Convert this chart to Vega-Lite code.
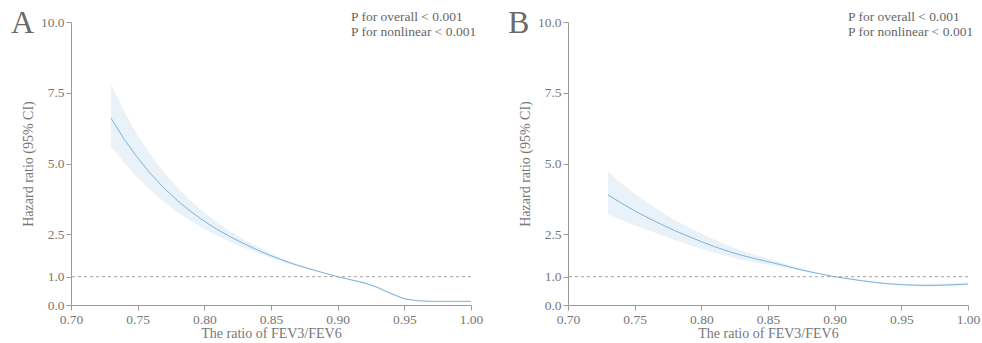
{
  "$schema": "https://vega.github.io/schema/vega-lite/v6.json",
  "padding": {"left": 11, "top": 7, "right": 5, "bottom": 0},
  "background": "white",
  "bounds": "flush",
  "spacing": 97,
  "datasets": {
    "A": [
      {"x": 0.73, "hr": 6.6, "lo": 5.6, "hi": 7.8},
      {"x": 0.74, "hr": 5.85, "lo": 5.02, "hi": 6.82},
      {"x": 0.75, "hr": 5.2, "lo": 4.5, "hi": 6.0},
      {"x": 0.76, "hr": 4.62, "lo": 4.04, "hi": 5.29},
      {"x": 0.77, "hr": 4.12, "lo": 3.64, "hi": 4.67},
      {"x": 0.78, "hr": 3.68, "lo": 3.28, "hi": 4.13},
      {"x": 0.79, "hr": 3.3, "lo": 2.97, "hi": 3.67},
      {"x": 0.8, "hr": 2.96, "lo": 2.69, "hi": 3.26},
      {"x": 0.81, "hr": 2.66, "lo": 2.44, "hi": 2.9},
      {"x": 0.82, "hr": 2.4, "lo": 2.22, "hi": 2.59},
      {"x": 0.83, "hr": 2.16, "lo": 2.02, "hi": 2.31},
      {"x": 0.84, "hr": 1.94, "lo": 1.83, "hi": 2.06},
      {"x": 0.85, "hr": 1.74, "lo": 1.66, "hi": 1.83},
      {"x": 0.86, "hr": 1.56, "lo": 1.5, "hi": 1.62},
      {"x": 0.87, "hr": 1.4, "lo": 1.36, "hi": 1.44},
      {"x": 0.88, "hr": 1.26, "lo": 1.24, "hi": 1.29},
      {"x": 0.89, "hr": 1.13, "lo": 1.12, "hi": 1.14},
      {"x": 0.9, "hr": 1.0, "lo": 1.0, "hi": 1.0},
      {"x": 0.91, "hr": 0.89, "lo": 0.87, "hi": 0.91},
      {"x": 0.92, "hr": 0.78, "lo": 0.75, "hi": 0.81},
      {"x": 0.93, "hr": 0.62, "lo": 0.59, "hi": 0.65},
      {"x": 0.94, "hr": 0.4, "lo": 0.37, "hi": 0.43},
      {"x": 0.95, "hr": 0.22, "lo": 0.19, "hi": 0.25},
      {"x": 0.96, "hr": 0.15, "lo": 0.13, "hi": 0.17},
      {"x": 0.97, "hr": 0.13, "lo": 0.12, "hi": 0.14},
      {"x": 0.98, "hr": 0.13, "lo": 0.12, "hi": 0.14},
      {"x": 0.99, "hr": 0.13, "lo": 0.12, "hi": 0.14},
      {"x": 1.0, "hr": 0.13, "lo": 0.12, "hi": 0.14}
    ],
    "B": [
      {"x": 0.73, "hr": 3.89, "lo": 3.2, "hi": 4.72},
      {"x": 0.74, "hr": 3.6, "lo": 3.0, "hi": 4.3},
      {"x": 0.75, "hr": 3.33, "lo": 2.82, "hi": 3.93},
      {"x": 0.76, "hr": 3.08, "lo": 2.64, "hi": 3.6},
      {"x": 0.77, "hr": 2.85, "lo": 2.47, "hi": 3.29},
      {"x": 0.78, "hr": 2.63, "lo": 2.3, "hi": 3.0},
      {"x": 0.79, "hr": 2.43, "lo": 2.14, "hi": 2.76},
      {"x": 0.8, "hr": 2.24, "lo": 1.98, "hi": 2.53},
      {"x": 0.81, "hr": 2.06, "lo": 1.84, "hi": 2.31},
      {"x": 0.82, "hr": 1.9, "lo": 1.72, "hi": 2.1},
      {"x": 0.83, "hr": 1.76, "lo": 1.6, "hi": 1.93},
      {"x": 0.84, "hr": 1.64, "lo": 1.5, "hi": 1.78},
      {"x": 0.85, "hr": 1.53, "lo": 1.42, "hi": 1.64},
      {"x": 0.86, "hr": 1.42, "lo": 1.34, "hi": 1.5},
      {"x": 0.87, "hr": 1.3, "lo": 1.25, "hi": 1.36},
      {"x": 0.88, "hr": 1.19, "lo": 1.16, "hi": 1.23},
      {"x": 0.89, "hr": 1.09, "lo": 1.08, "hi": 1.1},
      {"x": 0.9, "hr": 1.0, "lo": 1.0, "hi": 1.0},
      {"x": 0.91, "hr": 0.93, "lo": 0.91, "hi": 0.95},
      {"x": 0.92, "hr": 0.86, "lo": 0.84, "hi": 0.89},
      {"x": 0.93, "hr": 0.8, "lo": 0.77, "hi": 0.83},
      {"x": 0.94, "hr": 0.75, "lo": 0.72, "hi": 0.78},
      {"x": 0.95, "hr": 0.72, "lo": 0.69, "hi": 0.75},
      {"x": 0.96, "hr": 0.7, "lo": 0.66, "hi": 0.74},
      {"x": 0.97, "hr": 0.69, "lo": 0.65, "hi": 0.74},
      {"x": 0.98, "hr": 0.7, "lo": 0.66, "hi": 0.75},
      {"x": 0.99, "hr": 0.72, "lo": 0.68, "hi": 0.77},
      {"x": 1.0, "hr": 0.74, "lo": 0.69, "hi": 0.8}
    ],
    "labelA": [{"panel": "A", "p1": "P for overall < 0.001", "p2": "P for nonlinear < 0.001"}],
    "labelB": [{"panel": "B", "p1": "P for overall < 0.001", "p2": "P for nonlinear < 0.001"}]
  },
  "hconcat": [
    {
      "width": 400,
      "height": 283,
      "layer": [
        {"data": {"name": "A"}, "mark": {"type": "area", "color": "#d6e8f3", "opacity": 0.55},
         "encoding": {
           "x": {"field": "x", "type": "quantitative", "scale": {"domain": [0.7, 1.0], "nice": false, "zero": false},
                 "axis": {"title": "The ratio of FEV3/FEV6", "values": [0.7, 0.75, 0.8, 0.85, 0.9, 0.95, 1.0], "format": ".2f"}},
           "y": {"field": "lo", "type": "quantitative", "scale": {"domain": [0, 10], "nice": false},
                 "axis": {"title": "Hazard ratio (95% CI)", "values": [0, 1, 2.5, 5, 7.5, 10], "format": ".1f"}},
           "y2": {"field": "hi"}}},
        {"data": {"name": "A"}, "mark": {"type": "line", "color": "#7fb2d8", "strokeWidth": 1},
         "encoding": {"x": {"field": "x", "type": "quantitative"}, "y": {"field": "hr", "type": "quantitative"}}},
        {"data": {"name": "labelA"}, "mark": {"type": "rule", "color": "#999", "strokeDash": [3, 3], "strokeWidth": 0.9},
         "encoding": {"y": {"datum": 1, "type": "quantitative"}}},
        {"data": {"name": "labelA"}, "mark": {"type": "text", "align": "left", "baseline": "alphabetic", "dx": -120, "dy": -1, "fontSize": 13.5, "font": "Liberation Serif", "color": "#666"},
         "encoding": {"x": {"datum": 1.0, "type": "quantitative"}, "y": {"datum": 10, "type": "quantitative"}, "text": {"field": "p1", "type": "nominal"}}},
        {"data": {"name": "labelA"}, "mark": {"type": "text", "align": "left", "baseline": "alphabetic", "dx": -120, "dy": 14, "fontSize": 13.5, "font": "Liberation Serif", "color": "#666"},
         "encoding": {"x": {"datum": 1.0, "type": "quantitative"}, "y": {"datum": 10, "type": "quantitative"}, "text": {"field": "p2", "type": "nominal"}}},
        {"data": {"name": "labelA"}, "mark": {"type": "text", "align": "left", "baseline": "alphabetic", "dx": -60, "dy": 11, "fontSize": 32, "font": "Liberation Serif", "color": "#6b6b6b"},
         "encoding": {"x": {"datum": 0.7, "type": "quantitative"}, "y": {"datum": 10, "type": "quantitative"}, "text": {"field": "panel", "type": "nominal"}}}
      ]
    },
    {
      "width": 400,
      "height": 283,
      "layer": [
        {"data": {"name": "B"}, "mark": {"type": "area", "color": "#d6e8f3", "opacity": 0.55},
         "encoding": {
           "x": {"field": "x", "type": "quantitative", "scale": {"domain": [0.7, 1.0], "nice": false, "zero": false},
                 "axis": {"title": "The ratio of FEV3/FEV6", "values": [0.7, 0.75, 0.8, 0.85, 0.9, 0.95, 1.0], "format": ".2f"}},
           "y": {"field": "lo", "type": "quantitative", "scale": {"domain": [0, 10], "nice": false},
                 "axis": {"title": "Hazard ratio (95% CI)", "values": [0, 1, 2.5, 5, 7.5, 10], "format": ".1f"}},
           "y2": {"field": "hi"}}},
        {"data": {"name": "B"}, "mark": {"type": "line", "color": "#7fb2d8", "strokeWidth": 1},
         "encoding": {"x": {"field": "x", "type": "quantitative"}, "y": {"field": "hr", "type": "quantitative"}}},
        {"data": {"name": "labelB"}, "mark": {"type": "rule", "color": "#999", "strokeDash": [3, 3], "strokeWidth": 0.9},
         "encoding": {"y": {"datum": 1, "type": "quantitative"}}},
        {"data": {"name": "labelB"}, "mark": {"type": "text", "align": "left", "baseline": "alphabetic", "dx": -120, "dy": -1, "fontSize": 13.5, "font": "Liberation Serif", "color": "#666"},
         "encoding": {"x": {"datum": 1.0, "type": "quantitative"}, "y": {"datum": 10, "type": "quantitative"}, "text": {"field": "p1", "type": "nominal"}}},
        {"data": {"name": "labelB"}, "mark": {"type": "text", "align": "left", "baseline": "alphabetic", "dx": -120, "dy": 14, "fontSize": 13.5, "font": "Liberation Serif", "color": "#666"},
         "encoding": {"x": {"datum": 1.0, "type": "quantitative"}, "y": {"datum": 10, "type": "quantitative"}, "text": {"field": "p2", "type": "nominal"}}},
        {"data": {"name": "labelB"}, "mark": {"type": "text", "align": "left", "baseline": "alphabetic", "dx": -60, "dy": 11, "fontSize": 32, "font": "Liberation Serif", "color": "#6b6b6b"},
         "encoding": {"x": {"datum": 0.7, "type": "quantitative"}, "y": {"datum": 10, "type": "quantitative"}, "text": {"field": "panel", "type": "nominal"}}}
      ]
    }
  ],
  "config": {
    "view": {"stroke": null},
    "font": "Liberation Serif",
    "axis": {"grid": false, "domainColor": "#9a9a9a", "tickColor": "#9a9a9a", "labelColor": "#777", "titleColor": "#777",
             "labelFont": "Liberation Serif", "titleFont": "Liberation Serif", "labelFontSize": 13.5, "titleFontSize": 14,
             "titleFontWeight": "normal", "tickSize": 5, "labelOverlap": false, "labelPadding": 2, "labelFlush": false},
    "axisX": {"titlePadding": 1},
    "axisY": {"titlePadding": 5}
  }
}
